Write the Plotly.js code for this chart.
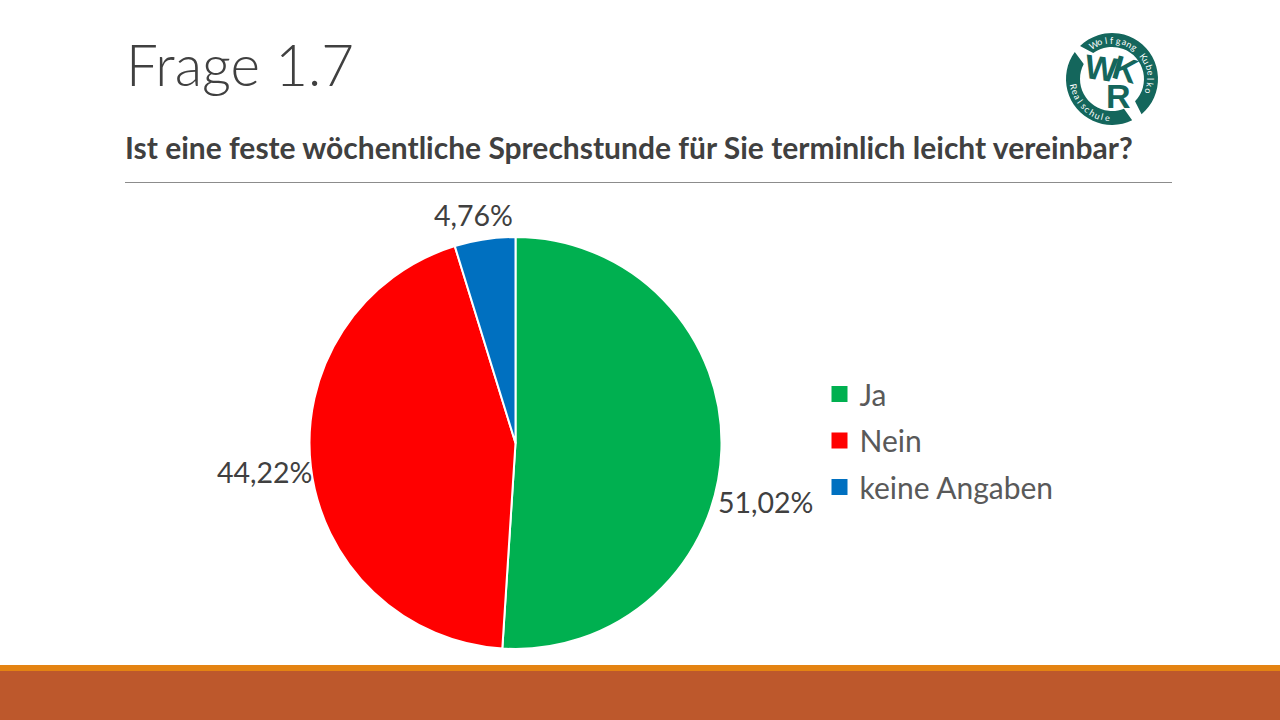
<!DOCTYPE html>
<html><head><meta charset="utf-8">
<script src="https://cdn.plot.ly/plotly-3.0.1.min.js"></script>
<style>html,body{margin:0;padding:0;background:#fff}#c{width:1280px;height:720px}</style></head>
<body><div id="c"></div>
<script>
var categories = ["Ja", "Nein", "keine Angaben"];
var shares = [51.02, 44.22, 4.76];
var shareLabels = ["51,02%", "44,22%", "4,76%"];
var sliceColors = ["#00B050", "#FF0000", "#0070C0"];
var pageTitle = "Frage 1.7";
var question = "Ist eine feste wöchentliche Sprechstunde für Sie terminlich leicht vereinbar?";
var logoTop = "Wolfgang Kubelko";
var logoBottom = "Realschule";
var logoLetters = ["W", "K", "R"];
var FONT = "Lato, 'Open Sans', sans-serif";
var labelPos = [[765, 502], [264, 472], [473, 215]];
var legendTraces = categories.map(function (c, i) {
  return {type: "scatter", mode: "markers", x: [-100], y: [-100], name: c, showlegend: true,
    hoverinfo: "skip", legendgroup: "g" + i,
    marker: {symbol: "square", size: 16, color: sliceColors[i]}};
});
var pie = {type: "pie", labels: categories, values: shares, sort: false, direction: "clockwise", rotation: 0,
  textinfo: "none", showlegend: false, hoverinfo: "label+percent",
  marker: {colors: sliceColors, line: {color: "#fff", width: 2}},
  domain: {x: [309.5 / 1280, 721.5 / 1280], y: [1 - 649 / 720, 1 - 237 / 720]}};
var logo = "#14665C", LX = 1112, LY = 79;
function pt(r, deg) { var a = deg * Math.PI / 180; return [LX + r * Math.cos(a), LY + r * Math.sin(a)]; }
function arc(r, a0, a1, first) {
  var n = Math.ceil(Math.abs(a1 - a0) / 30), d = (a1 - a0) / n, s = "";
  var p0 = pt(r, a0);
  s += (first ? "M" : "L") + p0[0].toFixed(2) + "," + p0[1].toFixed(2);
  for (var i = 0; i < n; i++) {
    var b0 = a0 + i * d, b1 = b0 + d, k = 4 / 3 * Math.tan((d * Math.PI / 180) / 4) * r;
    var A = pt(r, b0), B = pt(r, b1), t0 = b0 * Math.PI / 180, t1 = b1 * Math.PI / 180;
    s += "C" + (A[0] - k * Math.sin(t0)).toFixed(2) + "," + (A[1] + k * Math.cos(t0)).toFixed(2) + " " +
      (B[0] + k * Math.sin(t1)).toFixed(2) + "," + (B[1] - k * Math.cos(t1)).toFixed(2) + " " +
      B[0].toFixed(2) + "," + B[1].toFixed(2);
  }
  return s;
}
function band(o0, o1, i0, i1) { return arc(46, o0, o1, true) + arc(32, i1, i0, false) + "Z"; }
function ringText(str, start, step, size, flip) {
  return str.split("").map(function (ch, i) {
    var th = start + i * step, p = pt(39, th);
    return {x: p[0], y: p[1], text: ch === " " ? "" : ch, textangle: flip ? th - 90 : th + 90, showarrow: false,
      font: {size: size, color: "#fff", family: FONT}};
  }).filter(function (a) { return a.text; });
}
var annotations = [
  {x: 123.5, y: 64, text: pageTitle, font: {size: 56.5, color: "#404040", family: FONT, weight: 300}, xanchor: "left", showarrow: false},
  {x: 123, y: 147, text: "<b>" + question + "</b>", font: {size: 30, color: "#404040", family: FONT}, xanchor: "left", showarrow: false}
].concat(shareLabels.map(function (t, i) {
  return {x: labelPos[i][0], y: labelPos[i][1], text: t, font: {size: 28.5, color: "#404040", family: FONT}, showarrow: false};
})).concat([
  {x: 1101, y: 68, text: "<b>" + logoLetters[0] + "</b>", textangle: 8, font: {size: 34, color: logo, family: "Liberation Sans"}, showarrow: false},
  {x: 1125, y: 69, text: "<b>" + logoLetters[1] + "</b>", textangle: 16, font: {size: 34, color: logo, family: "Liberation Sans"}, showarrow: false},
  {x: 1118, y: 96, text: "<b>" + logoLetters[2] + "</b>", font: {size: 34, color: logo, family: "Liberation Sans"}, showarrow: false}
]).concat(ringText(logoTop, -117, 9, 9, false)).concat(ringText(logoBottom, 169, -8.1, 9, true));
var shapes = [
  {type: "rect", x0: 0, x1: 1280, y0: 665, y1: 671, fillcolor: "#E48312", line: {width: 0}, layer: "below"},
  {type: "rect", x0: 0, x1: 1280, y0: 671, y1: 720, fillcolor: "#BD582C", line: {width: 0}, layer: "below"},
  {type: "line", x0: 125, x1: 1172, y0: 182.5, y1: 182.5, line: {color: "#8C8C8C", width: 1}, layer: "below"},
  {type: "path", path: band(-134, 50, -126, 44), fillcolor: logo, line: {width: 0}},
  {type: "path", path: band(64, 216, 68, 208), fillcolor: logo, line: {width: 0}}
];
var layout = {
  width: 1280, height: 720, margin: {l: 0, r: 0, t: 0, b: 0},
  paper_bgcolor: "#fff", plot_bgcolor: "rgba(0,0,0,0)",
  xaxis: {visible: false, range: [0, 1280], fixedrange: true},
  yaxis: {visible: false, range: [720, 0], fixedrange: true},
  showlegend: true,
  legend: {x: 819.5 / 1280, y: 1 - 368 / 720, xanchor: "left", yanchor: "top", font: {size: 30, color: "#595959", family: FONT},
    tracegroupgap: 4.5, bgcolor: "rgba(0,0,0,0)", itemwidth: 30},
  annotations: annotations, shapes: shapes
};
Plotly.newPlot("c", [pie].concat(legendTraces), layout, {displayModeBar: false, staticPlot: true});
</script></body></html>
